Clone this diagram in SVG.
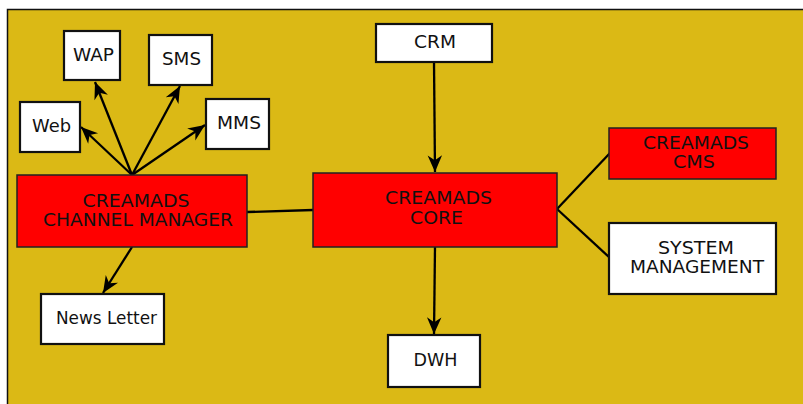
<svg xmlns="http://www.w3.org/2000/svg" width="803" height="404" viewBox="0 0 803 404">
<style>
.w{fill:#fff;stroke:#111;stroke-width:2.2}
.r{fill:#ff0000;stroke:#222;stroke-width:1.5}
text{font-family:"DejaVu Sans","Verdana",sans-serif;font-size:17px;fill:#111;text-anchor:middle}
.c{fill:none;stroke:#000;stroke-width:2.3}
</style>
<defs>
<marker id="ah" markerUnits="userSpaceOnUse" markerWidth="20" markerHeight="20" viewBox="-16 -8 18 16" refX="0" refY="0" orient="auto">
<path d="M0,0 L-15,-6.5 L-10.5,0 L-15,6.5 Z" fill="#000"/>
</marker>
</defs>
<rect x="0" y="0" width="803" height="404" fill="#fff"/>
<rect x="7.5" y="9.5" width="800" height="400" fill="#dbb915" stroke="#111" stroke-width="1.5"/>
<g id="connectors">
<line class="c" x1="132" y1="175" x2="81" y2="127" marker-end="url(#ah)"/>
<line class="c" x1="132" y1="175" x2="95" y2="82" marker-end="url(#ah)"/>
<line class="c" x1="132" y1="175" x2="180" y2="86" marker-end="url(#ah)"/>
<line class="c" x1="132" y1="175" x2="205" y2="125" marker-end="url(#ah)"/>
<line class="c" x1="132" y1="247" x2="103" y2="293" marker-end="url(#ah)"/>
<line class="c" x1="434" y1="62" x2="435" y2="172" marker-end="url(#ah)"/>
<line class="c" x1="435" y1="247" x2="434" y2="334" marker-end="url(#ah)"/>
<line class="c" x1="247" y1="212" x2="313" y2="210"/>
<line class="c" x1="557" y1="209" x2="610" y2="153"/>
<line class="c" x1="557" y1="209" x2="610" y2="258"/>
</g>
<g id="wap"><rect class="w" x="64" y="31" width="56" height="49"/><text x="93.5" y="61" textLength="41" lengthAdjust="spacingAndGlyphs">WAP</text></g>
<g id="sms"><rect class="w" x="149" y="35" width="63" height="50"/><text x="181.5" y="65" textLength="39" lengthAdjust="spacingAndGlyphs">SMS</text></g>
<g id="web"><rect class="w" x="20" y="102" width="60" height="50"/><text x="51.5" y="132" textLength="39" lengthAdjust="spacingAndGlyphs">Web</text></g>
<g id="mms"><rect class="w" x="206" y="99" width="63" height="50"/><text x="239" y="129" textLength="44" lengthAdjust="spacingAndGlyphs">MMS</text></g>
<g id="channel-manager"><rect class="r" x="17" y="175" width="230" height="72"/>
<text x="136" y="207" textLength="107" lengthAdjust="spacingAndGlyphs">CREAMADS</text>
<text x="138" y="226" textLength="190" lengthAdjust="spacingAndGlyphs">CHANNEL MANAGER</text></g>
<g id="news-letter"><rect class="w" x="41" y="294" width="123" height="50"/><text x="106.5" y="324" textLength="101" lengthAdjust="spacingAndGlyphs">News Letter</text></g>
<g id="crm"><rect class="w" x="376" y="24" width="116" height="38"/><text x="435" y="48" textLength="42" lengthAdjust="spacingAndGlyphs">CRM</text></g>
<g id="core"><rect class="r" x="313" y="173" width="244" height="74"/>
<text x="438.5" y="204" textLength="107" lengthAdjust="spacingAndGlyphs">CREAMADS</text>
<text x="436.5" y="224" textLength="53" lengthAdjust="spacingAndGlyphs">CORE</text></g>
<g id="cms"><rect class="r" x="609" y="128" width="167" height="51"/>
<text x="696" y="149" textLength="106" lengthAdjust="spacingAndGlyphs">CREAMADS</text>
<text x="694" y="168" textLength="42" lengthAdjust="spacingAndGlyphs">CMS</text></g>
<g id="system-management"><rect class="w" x="609" y="223" width="167" height="71"/>
<text x="696" y="254" textLength="76" lengthAdjust="spacingAndGlyphs">SYSTEM</text>
<text x="697" y="273" textLength="134" lengthAdjust="spacingAndGlyphs">MANAGEMENT</text></g>
<g id="dwh"><rect class="w" x="388" y="335" width="92" height="52"/><text x="435.5" y="366" textLength="44" lengthAdjust="spacingAndGlyphs">DWH</text></g>
</svg>
